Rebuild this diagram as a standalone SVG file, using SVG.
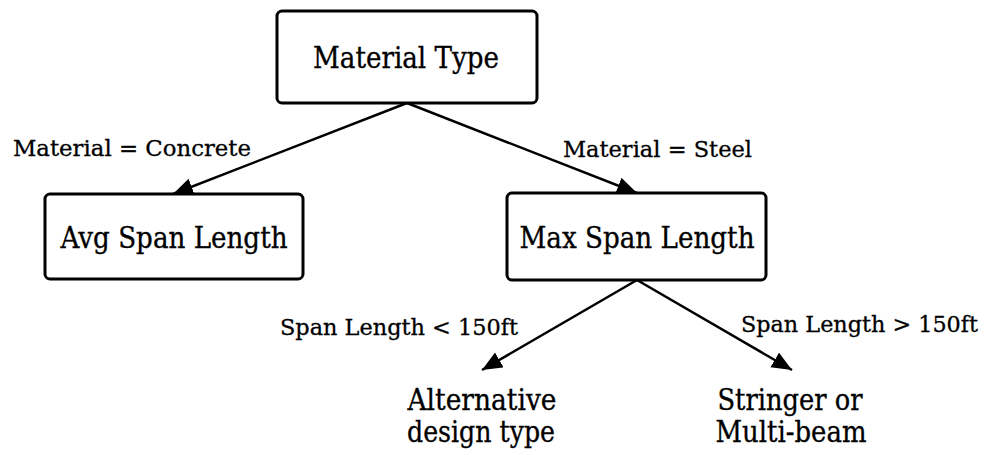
<svg xmlns="http://www.w3.org/2000/svg" width="991" height="455" viewBox="0 0 991 455">
  <style>
    .box { fill: #ffffff; stroke: #000000; stroke-width: 3; }
    .node { font-family: "DejaVu Serif", "Liberation Serif", serif; font-size: 30px; fill: #000000; stroke: #000000; stroke-width: 0.35; text-anchor: middle; }
    .lbl { font-family: "DejaVu Serif", "Liberation Serif", serif; font-size: 22.5px; fill: #000000; stroke: #000000; stroke-width: 0.3; }
    .edge { stroke: #000000; stroke-width: 2.5; fill: none; marker-end: url(#arrow); }
  </style>
  <defs>
    <marker id="arrow" markerUnits="userSpaceOnUse" markerWidth="22" markerHeight="18" refX="20" refY="8.5" orient="auto">
      <path d="M0,0 L20,8.5 L0,17 z" fill="#000000"/>
    </marker>
  </defs>
  <rect width="991" height="455" fill="#ffffff"/>
  <g id="connectors">
    <line class="edge" x1="407" y1="103" x2="173" y2="194"/>
    <line class="edge" x1="407" y1="103" x2="637" y2="193"/>
    <line class="edge" x1="637" y1="280" x2="482" y2="370"/>
    <line class="edge" x1="637" y1="280" x2="792" y2="370"/>
    <text class="lbl" x="13" y="156" textLength="238" lengthAdjust="spacingAndGlyphs">Material = Concrete</text>
    <text class="lbl" x="563" y="157" textLength="189" lengthAdjust="spacingAndGlyphs">Material = Steel</text>
    <text class="lbl" x="280" y="335" textLength="238" lengthAdjust="spacingAndGlyphs">Span Length &lt; 150ft</text>
    <text class="lbl" x="741" y="332" textLength="237" lengthAdjust="spacingAndGlyphs">Span Length &gt; 150ft</text>
  </g>
  <g id="material-type">
    <rect class="box" x="277" y="11" width="260" height="92" rx="5"/>
    <text class="node" x="406" y="68" textLength="186" lengthAdjust="spacingAndGlyphs">Material Type</text>
  </g>
  <g id="avg-span-length">
    <rect class="box" x="45" y="194" width="258" height="85" rx="5"/>
    <text class="node" x="174" y="248" textLength="227" lengthAdjust="spacingAndGlyphs">Avg Span Length</text>
  </g>
  <g id="max-span-length">
    <rect class="box" x="507" y="193" width="259" height="87" rx="5"/>
    <text class="node" x="637" y="248" textLength="235" lengthAdjust="spacingAndGlyphs">Max Span Length</text>
  </g>
  <g id="alternative-design-type">
    <text class="node" x="482" y="410" textLength="149" lengthAdjust="spacingAndGlyphs">Alternative</text>
    <text class="node" x="481" y="442" textLength="148" lengthAdjust="spacingAndGlyphs">design type</text>
  </g>
  <g id="stringer-multi-beam">
    <text class="node" x="790" y="410" textLength="145" lengthAdjust="spacingAndGlyphs">Stringer or</text>
    <text class="node" x="791" y="442" textLength="151" lengthAdjust="spacingAndGlyphs">Multi-beam</text>
  </g>
</svg>
